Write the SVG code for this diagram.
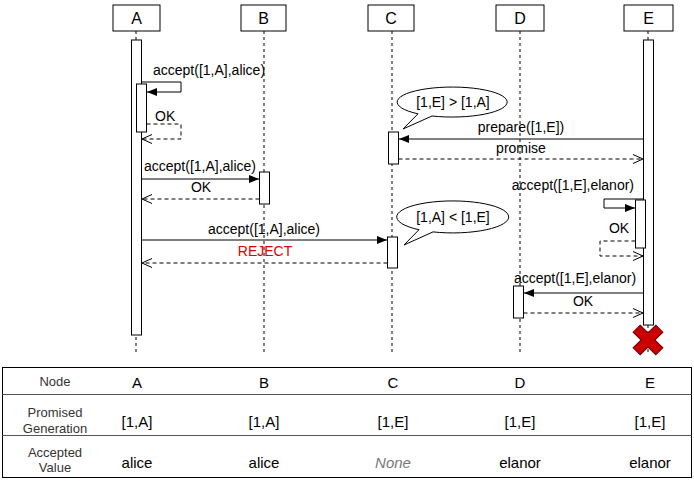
<svg xmlns="http://www.w3.org/2000/svg" width="694" height="481" viewBox="0 0 694 481">
<style>
.box{fill:#fff;stroke:#000;stroke-width:1}
.life{stroke:#000;stroke-width:1;stroke-dasharray:3,3;fill:none}
.act{fill:#fff;stroke:#000;stroke-width:1}
.msg{stroke:#000;stroke-width:1;fill:none;marker-end:url(#fill)}
.ret{stroke:#000;stroke-width:1;fill:none;stroke-dasharray:4,3;marker-end:url(#open)}
.t{font-family:"Liberation Sans",Arial,sans-serif;font-size:14px;fill:#000}
.p{font-family:"Liberation Sans",Arial,sans-serif;font-size:16px;fill:#000;text-anchor:middle}
.c{text-anchor:middle}
.tb{font-family:"Liberation Sans",Arial,sans-serif;font-size:13px;fill:#333;text-anchor:middle}
.tv{font-family:"Liberation Sans",Arial,sans-serif;font-size:15px;fill:#000;text-anchor:middle}
.bub{fill:#fff;stroke:#000;stroke-width:1}
</style>
<defs>
<marker id="fill" markerWidth="10" markerHeight="8" refX="10" refY="4" orient="auto" markerUnits="userSpaceOnUse">
<path d="M0,0 L10,4 L0,8 z" fill="#000"/>
</marker>
<marker id="open" markerWidth="10" markerHeight="10" refX="10" refY="5" orient="auto" markerUnits="userSpaceOnUse">
<path d="M0,0.5 L10,5 L0,9.5" fill="none" stroke="#000" stroke-width="1"/>
</marker>
</defs>
<rect width="694" height="481" fill="#fff"/>

<g id="lifelines">
<line class="life" x1="136" y1="31" x2="136" y2="352"/>
<line class="life" x1="264" y1="31" x2="264" y2="352"/>
<line class="life" x1="392" y1="31" x2="392" y2="352"/>
<line class="life" x1="520" y1="31" x2="520" y2="352"/>
<line class="life" x1="648" y1="31" x2="648" y2="352"/>
</g>

<g id="node-A">
<rect class="box" x="113" y="5" width="47" height="26"/>
<text class="p" x="136.5" y="24">A</text>
<rect class="act" x="131.5" y="40" width="10" height="295"/>
<rect class="act" x="136.5" y="84" width="10" height="48"/>
</g>
<g id="node-B">
<rect class="box" x="241" y="5" width="45" height="26"/>
<text class="p" x="263.5" y="24">B</text>
<rect class="act" x="259.5" y="172" width="10" height="32"/>
</g>
<g id="node-C">
<rect class="box" x="368" y="5" width="46" height="26"/>
<text class="p" x="391" y="24">C</text>
<rect class="act" x="388.5" y="132" width="10" height="32"/>
<rect class="act" x="387.5" y="237" width="10" height="31"/>
</g>
<g id="node-D">
<rect class="box" x="496" y="5" width="48" height="26"/>
<text class="p" x="520" y="24">D</text>
<rect class="act" x="513.5" y="286" width="10" height="32"/>
</g>
<g id="node-E">
<rect class="box" x="624" y="5" width="49" height="26"/>
<text class="p" x="648.5" y="24">E</text>
<rect class="act" x="643.5" y="40" width="10" height="285"/>
<rect class="act" x="635.5" y="200" width="10" height="48"/>
<path transform="translate(648,340) rotate(45)" d="M-5,-16 L5,-16 L5,-5 L16,-5 L16,5 L5,5 L5,16 L-5,16 L-5,5 L-16,5 L-16,-5 L-5,-5 Z" fill="#CC0000" stroke="#660000" stroke-width="1"/>
</g>

<g id="bubble-1">
<path class="bub" d="M432,116 A55,15 0 1 0 418,113.8 L403,129 Z"/>
<text class="t c" x="453" y="107">[1,E] &gt; [1,A]</text>
</g>
<g id="bubble-2">
<path class="bub" d="M433,231.9 A56,16 0 1 0 419,229.7 L404,245 Z"/>
<text class="t c" x="453" y="222">[1,A] &lt; [1,E]</text>
</g>

<g id="connectors">
<path class="msg" d="M141.5,82 H181 V92 H147"/>
<text class="t" x="153" y="75">accept([1,A],alice)</text>
<path class="ret" d="M146.5,124 H181 V139 H142"/>
<text class="t" x="155" y="121">OK</text>

<path class="msg" d="M141.5,179 H259"/>
<text class="t c" x="200" y="171">accept([1,A],alice)</text>
<path class="ret" d="M259.5,199 H142"/>
<text class="t c" x="201" y="192">OK</text>

<path class="msg" d="M141.5,240 H387"/>
<text class="t c" x="264" y="234">accept([1,A],alice)</text>
<path class="ret" d="M387.5,263 H142"/>
<text class="t c" x="265" y="256" style="fill:#E00000">REJECT</text>

<path class="msg" d="M643.5,139 H399"/>
<text class="t c" x="521" y="132">prepare([1,E])</text>
<path class="ret" d="M398.5,159 H643"/>
<text class="t c" x="521" y="153">promise</text>

<path class="msg" d="M643.5,199 H604 V208 H635"/>
<text class="t" x="634" y="190" text-anchor="end">accept([1,E],elanor)</text>
<path class="ret" d="M635.5,241 H600 V256 H643"/>
<text class="t c" x="619" y="233">OK</text>

<path class="msg" d="M643.5,293 H524"/>
<text class="t c" x="575" y="283">accept([1,E],elanor)</text>
<path class="ret" d="M523.5,313 H643"/>
<text class="t c" x="583" y="306">OK</text>
</g>

<g id="table">
<rect x="2.5" y="367.5" width="689" height="110" fill="#fff" stroke="#000" stroke-width="1"/>
<line x1="2.5" y1="394.5" x2="691.5" y2="394.5" stroke="#555"/>
<line x1="2.5" y1="435.5" x2="691.5" y2="435.5" stroke="#555"/>
<text class="tb" x="55" y="386">Node</text>
<text class="tb" x="55" y="417">Promised</text>
<text class="tb" x="55" y="433">Generation</text>
<text class="tb" x="55" y="457">Accepted</text>
<text class="tb" x="55" y="472">Value</text>

<text class="tv" x="137" y="388">A</text>
<text class="tv" x="264" y="388">B</text>
<text class="tv" x="393" y="388">C</text>
<text class="tv" x="520" y="388">D</text>
<text class="tv" x="650" y="388">E</text>

<text class="tv" x="137" y="427">[1,A]</text>
<text class="tv" x="264" y="427">[1,A]</text>
<text class="tv" x="393" y="427">[1,E]</text>
<text class="tv" x="520" y="427">[1,E]</text>
<text class="tv" x="650" y="427">[1,E]</text>

<text class="tv" x="137" y="468">alice</text>
<text class="tv" x="264" y="468">alice</text>
<text class="tv" x="393" y="468" style="fill:#777;font-style:italic">None</text>
<text class="tv" x="520" y="468">elanor</text>
<text class="tv" x="650" y="468">elanor</text>
</g>
</svg>
